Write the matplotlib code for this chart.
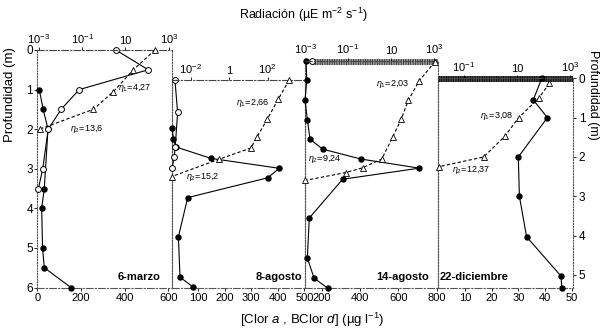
import matplotlib
matplotlib.use('Agg')
import matplotlib.pyplot as plt
from matplotlib.patches import Rectangle
from matplotlib.ticker import FixedLocator, FixedFormatter, NullLocator

plt.rcParams['font.family'] = ['Liberation Sans', 'DejaVu Sans']
plt.rcParams['mathtext.fontset'] = 'custom'
plt.rcParams['mathtext.rm'] = 'Liberation Sans'
plt.rcParams['mathtext.it'] = 'Liberation Sans:italic'
plt.rcParams['mathtext.bf'] = 'Liberation Sans:bold'
plt.rcParams['hatch.linewidth'] = 0.5

# ---------------- data ----------------
# Panel 1: 6-marzo
p1_chl_depth = [1.0, 1.5, 2.0, 3.5, 4.0, 5.0, 5.5, 6.0]
p1_chl = [9, 27, 49, 32, 20, 24, 32, 154]
p1_bchl_depth = [0, 0.5, 1.0, 1.5, 2.0, 3.0, 3.5]
p1_bchl = [360, 508, 192, 109, 50, 25, 5]
p1_rad_depth = [0, 0.5, 1.05, 1.5, 2.0]
p1_rad = [230, 23, 2.8, 0.33, 0.0011]

# Panel 2: 8-agosto
p2_chl_depth = [1.2, 1.48, 1.69, 1.98, 2.23, 2.47, 2.97, 3.96, 4.98, 5.23]
p2_chl = [2, 7, 16, 149, 406, 362, 61, 26, 32, 82]
p2_bchl_depth = [0, 0.82, 1.7, 1.95, 2.22]
p2_bchl = [13, 23, 14, 10, 2]
p2_rad_depth = [0, 0.49, 0.99, 1.45, 1.72, 2.0, 2.44]
p2_rad = [1300, 350, 95, 27, 13, 0.3, 0.001]

# Panel 3: 14-agosto
p3_chl_depth = [0, 0.49, 1.0, 1.5, 1.99, 2.24, 2.49, 2.72, 3.0, 3.98, 4.99, 5.5, 5.75]
p3_chl = [118, 122, 113, 125, 139, 205, 405, 709, 309, 135, 125, 160, 231]
p3_bchl_depth = [0]
p3_bchl = [148]
p3_rad_depth = [0.03, 0.52, 1.01, 1.48, 1.93, 2.49, 2.71, 2.83, 3.03]
p3_rad = [1100, 200, 63, 30, 12, 3.7, 0.48, 0.08, 0.001]

# Panel 4: 22-diciembre
p4_chl_depth = [0, 0.55, 1.0, 2.0, 3.0, 4.03, 5.03, 5.34]
p4_chl = [38.8, 35.6, 40.9, 30.0, 30.4, 33.1, 46.0, 46.3]
p4_rad_depth = [0.13, 0.51, 1.0, 1.47, 2.0, 2.25]
p4_rad = [165, 65, 11.5, 3.5, 0.55, 0.011]

panel_names = ['6-marzo', '8-agosto', '14-agosto', '22-diciembre']
eta_labels = [('4,27', '13,6'), ('2,66', '15,2'), ('2,03', '9,24'), ('3,08', '12,37')]

bottom_ticks = [[0, 200, 400, 600], [100, 200, 300, 400, 500],
                [200, 400, 600, 800], [10, 20, 30, 40, 50]]
top_ticks = [[1e-3, 1e-1, 10, 1e3], [1e-2, 1, 1e2], [1e-3, 1e-1, 10, 1e3], [1e-1, 10, 1e3]]
top_ticklabels = [['10$^{-3}$', '10$^{-1}$', '10', '10$^{3}$'],
                  ['10$^{-2}$', '1', '10$^{2}$'],
                  ['10$^{-3}$', '10$^{-1}$', '10', '10$^{3}$'],
                  ['10$^{-1}$', '10', '10$^{3}$']]

# --------------- layout ---------------
W, H = 601, 329
fig = plt.figure(figsize=(W / 100, H / 100), dpi=100)

BOT = 287.5
geo = [  # x0, x1, top, ymax, xlim, log xlim
    (37.3, 171.5, 50.0, 6.0, (0, 614.8), (10 ** -3.06, 10 ** 3.12)),
    (171.5, 305.0, 80.0, 5.24, (0, 502.6), (1e-3, 10 ** 3.94)),
    (305.0, 437.5, 60.5, 5.735, (112.7, 803.9), (1e-3, 10 ** 3.16)),
    (437.5, 573.0, 78.3, 5.32, (-0.3, 50.5), (1e-2, 10 ** 3.11)),
]

chl_series = [(p1_chl_depth, p1_chl), (p2_chl_depth, p2_chl), (p3_chl_depth, p3_chl), (p4_chl_depth, p4_chl)]
bchl_series = [(p1_bchl_depth, p1_bchl), (p2_bchl_depth, p2_bchl), (p3_bchl_depth, p3_bchl), None]
rad_series = [(p1_rad_depth, p1_rad), (p2_rad_depth, p2_rad), (p3_rad_depth, p3_rad), (p4_rad_depth, p4_rad)]

TL = 8  # tick label size
axes = []
for i, (x0, x1, top, ymax, xl, lxl) in enumerate(geo):
    ax = fig.add_axes([x0 / W, 1 - BOT / H, (x1 - x0) / W, (BOT - top) / H])
    ax.set_xlim(*xl)
    ax.set_ylim(ymax, 0)
    ax.patch.set_alpha(0)
    axt = ax.twiny()
    axt.set_xscale('log')
    axt.set_xlim(*lxl)
    axt.set_ylim(ymax, 0)

    # spines
    ax.spines['top'].set_visible(False)
    for s in ('left', 'right'):
        ax.spines[s].set_linestyle((0, (1, 1.5)))
        ax.spines[s].set_color('#555555')
        ax.spines[s].set_linewidth(0.8)
    ax.spines['bottom'].set_linestyle((0, (6, 2, 1, 2)))
    ax.spines['bottom'].set_color('#555555')
    ax.spines['bottom'].set_linewidth(0.8)
    for s in ('left', 'right', 'bottom'):
        axt.spines[s].set_visible(False)
    axt.spines['top'].set_linestyle((0, (6, 2, 1, 2)))
    axt.spines['top'].set_color('#444444')
    axt.spines['top'].set_linewidth(0.8)

    # ticks
    ax.xaxis.set_major_locator(FixedLocator(bottom_ticks[i]))
    ax.set_xticklabels([str(t) for t in bottom_ticks[i]])
    ax.tick_params(axis='x', direction='out', length=2, width=0.6, labelsize=TL, pad=2)
    axt.xaxis.set_major_locator(FixedLocator(top_ticks[i]))
    axt.xaxis.set_major_formatter(FixedFormatter(top_ticklabels[i]))
    axt.xaxis.set_minor_locator(NullLocator())
    axt.tick_params(axis='x', direction='out', length=2, width=0.6, labelsize=TL, pad=1)
    axt.tick_params(axis='y', left=False, right=False, labelleft=False, labelright=False)

    if i == 0:
        ax.yaxis.set_major_locator(FixedLocator([0, 1, 2, 3, 4, 5, 6]))
        ax.tick_params(axis='y', direction='out', length=2, width=0.6, labelsize=8.5, pad=1)
    elif i == 3:
        ax.yaxis.set_major_locator(FixedLocator([0, 1, 2, 3, 4, 5]))
        ax.tick_params(axis='y', left=False, labelleft=False, right=True, labelright=True,
                       direction='out', length=2, width=0.6, labelsize=8.5, pad=2)
    else:
        ax.tick_params(axis='y', left=False, labelleft=False)

    # data
    d, v = chl_series[i]
    ax.plot(v, d, '-', color='black', lw=0.8, marker='o', ms=3.6, mfc='black',
            mec='black', clip_on=False, zorder=4)
    if bchl_series[i] is not None:
        d, v = bchl_series[i]
        ax.plot(v, d, '-', color='black', lw=0.8, marker='o', ms=4.2, mfc='white',
                mec='black', mew=0.7, clip_on=False, zorder=5)
    d, v = rad_series[i]
    axt.plot(v, d, color='black', lw=0.8, dashes=(3, 2), marker='^', ms=4.6, mfc='white',
             mec='black', mew=0.6, clip_on=False, zorder=6)
    axes.append((ax, axt))

# textured bands along top axes of panels 3 and 4
ax3 = axes[2][0]
ax3.add_patch(Rectangle((0.053, -0.04), 0.947, 0.15, transform=ax3.get_yaxis_transform(),
                        facecolor='#9a9a9a', edgecolor='#222222', hatch='|||||||', lw=0,
                        clip_on=False, zorder=3))
ax4 = axes[3][0]
ax4.add_patch(Rectangle((0.0, -0.06), 1.0, 0.15, transform=ax4.get_yaxis_transform(),
                        facecolor='#444444', edgecolor='#000000', hatch='|||||||', lw=0,
                        clip_on=False, zorder=3))

# eta annotations (pixel positions of text centres)
eta_pos = [((135, 88), (87, 129)), ((253, 103), (203, 177)),
           ((393, 84), (325, 159)), ((497, 116), (471, 170))]
for (p1, p2), (e1, e2) in zip(eta_pos, eta_labels):
    fig.text(p1[0] / W, 1 - p1[1] / H, r'$\eta_1$=' + e1, fontsize=6.5, ha='center', va='center')
    fig.text(p2[0] / W, 1 - p2[1] / H, r'$\eta_2$=' + e2, fontsize=6.5, ha='center', va='center')

# panel names
name_pos = [(161, 'right'), (302, 'right'), (429, 'right'), (440, 'left')]
for name, (x, ha) in zip(panel_names, name_pos):
    fig.text(x / W, 1 - 277 / H, name, fontsize=8, fontweight='bold', ha=ha, va='center')

# axis titles
fig.text(303 / W, 1 - 15 / H, 'Radiación (µE m$^{-2}$ s$^{-1}$)', fontsize=9, ha='center', va='center')
fig.text(312 / W, 1 - 320 / H, '[Clor $\\it{a}$ , BClor $\\it{d}$] (µg l$^{-1}$)', fontsize=9.5,
         ha='center', va='center')
fig.text(10 / W, 1 - 95 / H, 'Profundidad (m)', fontsize=9.5, rotation=90, ha='center', va='center')
fig.text(593 / W, 1 - 95 / H, 'Profundidad (m)', fontsize=9, rotation=-90, ha='center', va='center')

fig.savefig('out.png', dpi=100, facecolor='white')
